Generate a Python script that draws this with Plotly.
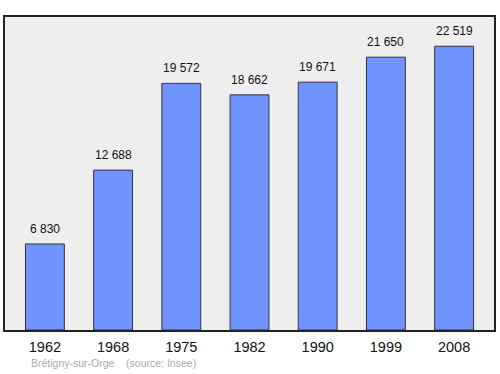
import plotly.graph_objects as go

years = ["1962", "1968", "1975", "1982", "1990", "1999", "2008"]
population = [6830, 12688, 19572, 18662, 19671, 21650, 22519]
labels = ["6 830", "12 688", "19 572", "18 662", "19 671", "21 650", "22 519"]

xpos = list(range(len(years)))

fig = go.Figure(go.Bar(
    x=xpos, y=population, width=0.57,
    marker=dict(color="#7094ff", line=dict(color="#333333", width=1)),
))

annots = [dict(x=x, y=v, text=t, xref="x", yref="y", yanchor="bottom", yshift=6,
               showarrow=False, font=dict(size=12, color="#111"))
          for x, v, t in zip(xpos, population, labels)]
annots.append(dict(text="Brétigny-sur-Orge    (source: Insee)", x=24/489, xref="paper",
                   y=-(364 - 330 + 7) / 313, yref="paper", xanchor="left", yanchor="bottom",
                   showarrow=False, font=dict(size=10.5, color="#aaaaaa")))

fig.update_layout(
    width=500, height=374,
    margin=dict(l=5, r=6, t=17, b=44),
    paper_bgcolor="white", plot_bgcolor="#eeeeee",
    showlegend=False,
    font=dict(family="Liberation Sans, Arial, sans-serif"),
    xaxis=dict(range=[-0.585, 6.585], tickmode="array", tickvals=xpos, ticktext=years,
               showline=True, mirror=True, linecolor="#222", linewidth=1.5,
               showgrid=False, zeroline=False, ticks="", ticklabelstandoff=3,
               tickfont=dict(size=14.5, color="#111")),
    yaxis=dict(range=[0, 24840], showline=True, mirror=True, linecolor="#222", linewidth=1.5,
               showgrid=False, zeroline=False, showticklabels=False, ticks=""),
    annotations=annots,
)
fig.write_html("out.html")
